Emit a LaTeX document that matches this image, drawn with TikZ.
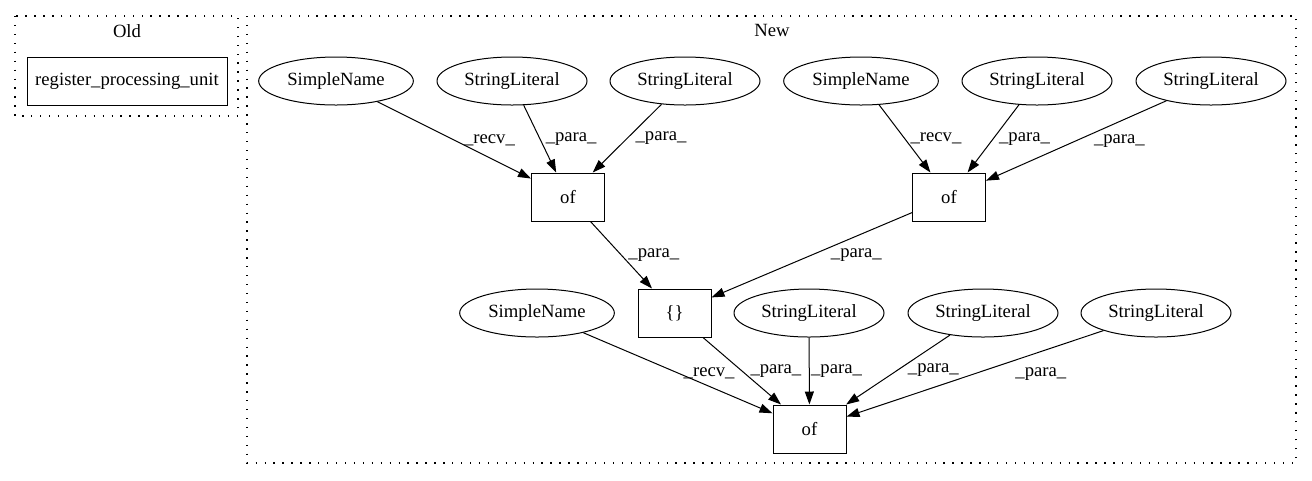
\documentclass[tikz,border=0pt]{standalone}
\usepackage{fontspec}
\setmainfont{Liberation Serif}
\usetikzlibrary{arrows.meta,shapes.geometric}
\begin{document}
\begin{tikzpicture}[x=0.75pt,y=-0.75pt,line width=0.75pt,
  font=\fontsize{14}{16}\selectfont,
  box/.style={draw,rectangle,minimum width=54.75pt,minimum height=36pt,inner sep=0pt},
  oval/.style={draw,ellipse,minimum height=36pt,inner sep=0pt},
  cluster/.style={line width=1pt,dash pattern=on 1pt off 5.7pt},
  flow/.style={-{Triangle[length=9.75pt,width=6.75pt]}},
  lbl/.style={anchor=west,inner sep=1pt,pos=0.5}]
\useasboundingbox (0,0) rectangle (1312,480);
\draw[cluster] (15,16) rectangle (238,116);
\draw[cluster] (247,16) rectangle (1296,463);
\node (old) at (127,31) {Old};
\node (new) at (772,30) {New};
\node[box,minimum width=150pt] (rpu) at (127,81.5) {register\_processing\_unit};
\foreach \n/\x/\y/\w/\t in {sn1/336/81/116/SimpleName, sl1/512/81/112.5/StringLiteral,
    sl2/685/81/112.5/StringLiteral, sn2/861/81/116/SimpleName, sl3/1037/81/112.5/StringLiteral,
    sl4/1211/81/112.5/StringLiteral, sn3/537/313/116/SimpleName, sl5/809/313/112.5/StringLiteral,
    sl6/983/313/112.5/StringLiteral, sl7/1156/313/112.5/StringLiteral}
{
    \node[oval,minimum width=\w pt] (\n) at (\x,\y) {\t};
}
\node[box] (of1) at (568,197) {of};
\node[box] (of2) at (949,197) {of};
\node[box] (br) at (674.5,313) {\{\}};
\node[box] (of3) at (809.5,429) {of};
\foreach \a/\b/\l/\s in {sn1/of1/recv/6pt, sl1/of1/para/3pt, sl2/of1/para/5pt,
    sn2/of2/recv/3pt, sl3/of2/para/3pt, sl4/of2/para/12pt, of1/br/para/4pt,
    of2/br/para/13pt, sn3/of3/recv/3pt, br/of3/para/5pt, sl5/of3/para/0pt,
    sl6/of3/para/6pt, sl7/of3/para/29pt}
{
    \draw[flow] (\a) -- node[lbl,xshift=\s] {\_\l\_} (\b);
}
\end{tikzpicture}
\end{document}
